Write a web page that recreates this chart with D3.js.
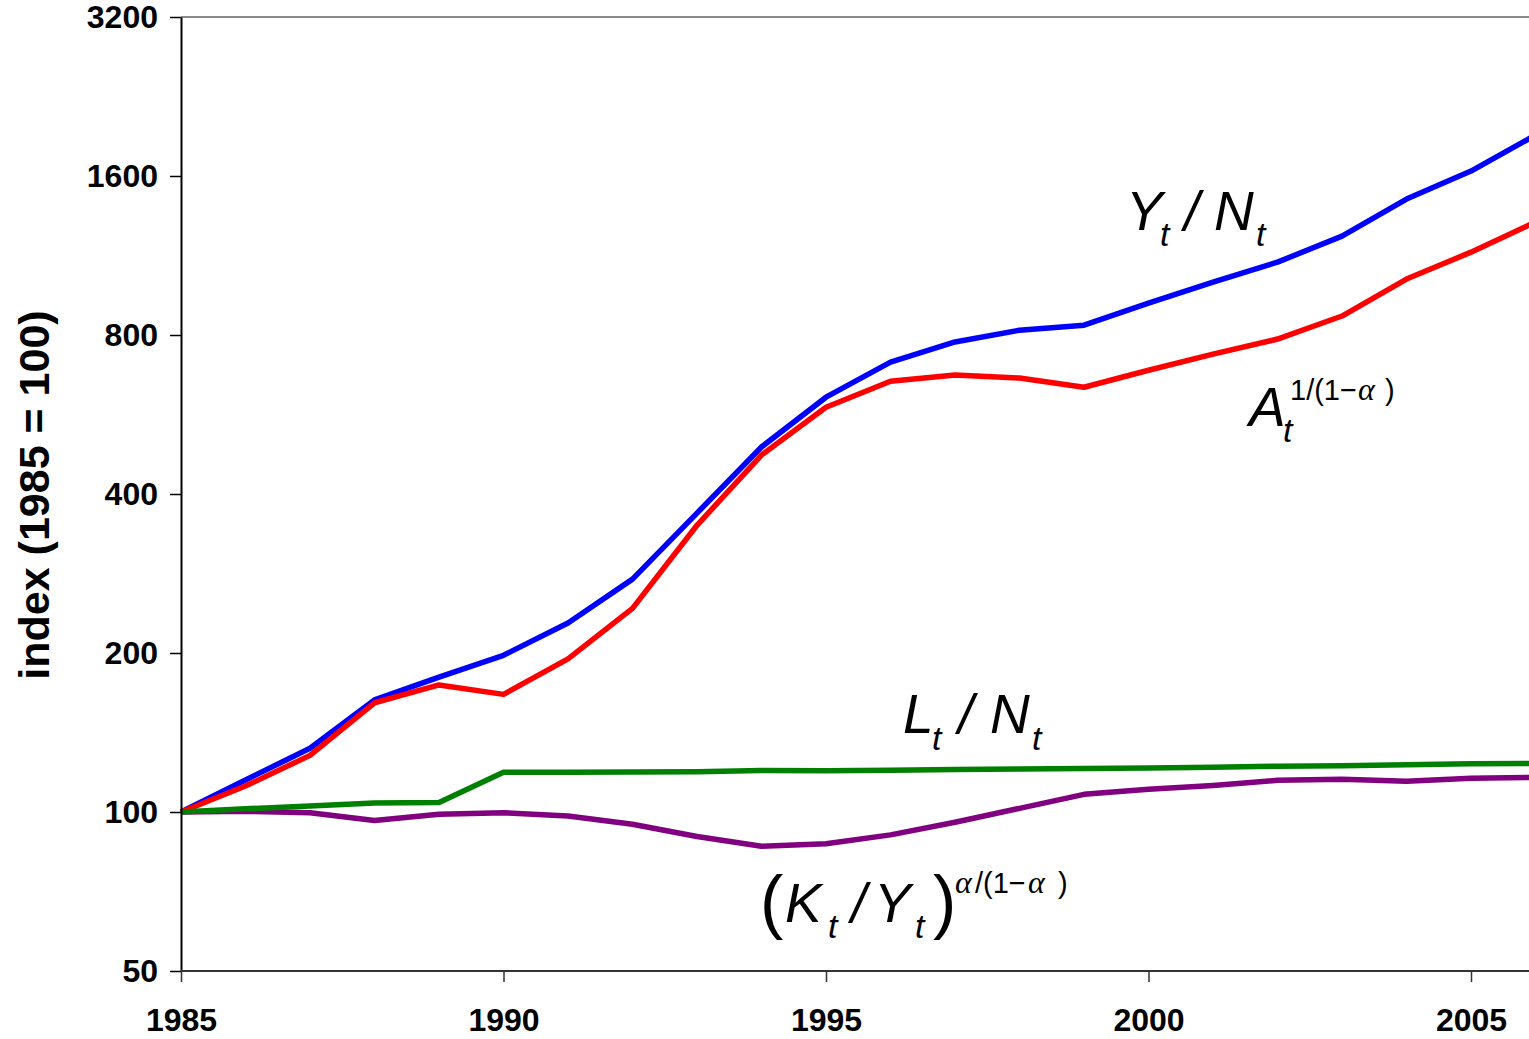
<!DOCTYPE html>
<html>
<head>
<meta charset="utf-8">
<script src="https://cdn.jsdelivr.net/npm/d3@7/dist/d3.min.js"></script>
<style>
  html, body { margin: 0; padding: 0; background: #fff; }
  svg { display: block; }
</style>
</head>
<body>
<svg id="chart" width="1529" height="1039"></svg>
<script>
// ---- data ----
const years = [1985,1986,1987,1988,1989,1990,1991,1992,1993,1994,1995,1996,1997,1998,1999,2000,2001,2002,2003,2004,2005,2006];
const outputPerCapita = [100,115,132,163,180,198,228,276,368,491,610,711,776,817,835,919,1007,1099,1231,1447,1635,1912];
const productivity    = [100,112,128,161,174,167,195,243,349,474,584,654,672,663,637,686,736,786,869,1021,1148,1309];
const laborShare      = [100,101.4,102.7,104.0,104.2,118.9,118.9,119.0,119.2,119.8,119.7,120.0,120.4,120.6,120.9,121.1,121.5,122.1,122.3,122.9,123.4,123.6];
const capitalOutput   = [100,100.3,99.7,96.4,99.0,99.7,98.3,94.8,89.9,86.1,87.1,90.5,95.6,101.6,108.0,110.4,112.3,114.8,115.3,114.3,115.8,116.3];
const yTicks = [50,100,200,400,800,1600,3200];
const xTicks = [1985,1990,1995,2000,2005];
const yTitle = "index (1985 = 100)";

const series = [
  { name: "capitalOutput", values: capitalOutput, color: "#800080" },
  { name: "outputPerCapita", values: outputPerCapita, color: "#0000FF" },
  { name: "productivity", values: productivity, color: "#FF0000" },
  { name: "laborShare", values: laborShare, color: "#008000" }
];

// ---- layout ----
const svg = d3.select("#chart");
const plotLeft = 181, plotTop = 17, plotBottom = 971, x2005 = 1471;

const x = d3.scaleLinear().domain([1985, 2005]).range([plotLeft, x2005]);
const y = d3.scaleLog().base(2).domain([50, 3200]).range([plotBottom, plotTop]);

// top border
svg.append("line")
  .attr("x1", plotLeft).attr("x2", 1529).attr("y1", plotTop).attr("y2", plotTop)
  .attr("stroke", "#8a8a8a").attr("stroke-width", 2);

// lines
const line = d3.line().x((d, i) => x(years[i])).y(d => y(d));
svg.append("g").selectAll("path").data(series).join("path")
  .attr("d", s => line(s.values))
  .attr("fill", "none")
  .attr("stroke", s => s.color)
  .attr("stroke-width", 5.5)
  .attr("stroke-linejoin", "round");

// y axis
const yAxis = d3.axisLeft(y).tickValues(yTicks).tickFormat(d3.format("d"))
  .tickSize(11).tickSizeOuter(0).tickPadding(12);
const gy = svg.append("g").attr("transform", `translate(${plotLeft},0)`).call(yAxis);
gy.select(".domain").attr("stroke", "#000").attr("stroke-width", 2);
gy.selectAll(".tick line").attr("stroke", "#000").attr("stroke-width", 1.5);
gy.selectAll("text").attr("font-family", "Liberation Sans, Arial, sans-serif")
  .attr("font-weight", "bold").attr("font-size", 32).attr("fill", "#000");

// x axis
const xAxis = d3.axisBottom(x).tickValues(xTicks).tickFormat(d3.format("d"))
  .tickSize(11).tickSizeOuter(0).tickPadding(26);
const gx = svg.append("g").attr("transform", `translate(0,${plotBottom})`).call(xAxis);
gx.select(".domain").remove();
gx.append("line").attr("x1", plotLeft).attr("x2", 1529).attr("y1", 0).attr("y2", 0)
  .attr("stroke", "#333").attr("stroke-width", 2);
gx.selectAll(".tick line").attr("stroke", "#333").attr("stroke-width", 1.5);
gx.selectAll("text").attr("font-family", "Liberation Sans, Arial, sans-serif")
  .attr("font-weight", "bold").attr("font-size", 32).attr("fill", "#000");

// y title
svg.append("text")
  .attr("transform", "translate(49,495) rotate(-90)")
  .attr("text-anchor", "middle")
  .attr("font-family", "Liberation Sans, Arial, sans-serif")
  .attr("font-weight", "bold").attr("font-size", 43)
  .text(yTitle);

// ---- math labels ----
const SANS = "Liberation Sans, Arial, sans-serif";
const SERIF = "Liberation Serif, Times New Roman, serif";
function label(parts) {
  const g = svg.append("g");
  parts.forEach(p => {
    g.append("text")
      .attr("x", p.x).attr("y", p.y)
      .attr("font-family", p.serif ? SERIF : SANS)
      .attr("font-style", p.italic ? "italic" : "normal")
      .attr("font-weight", p.weight || "normal")
      .attr("font-size", p.s)
      .attr("fill", "#000")
      .text(p.t);
  });
}
// Y_t / N_t
label([
  { t: "Y", x: 1126, y: 230, s: 55, italic: true },
  { t: "t", x: 1160, y: 246, s: 34, italic: true },
  { t: "/", x: 1184, y: 230, s: 55, italic: true },
  { t: "N", x: 1214, y: 230, s: 55, italic: true },
  { t: "t", x: 1256, y: 246, s: 34, italic: true }
]);
// A_t^{1/(1-alpha)}
label([
  { t: "A", x: 1249, y: 426, s: 55, italic: true },
  { t: "t", x: 1283, y: 442, s: 34, italic: true },
  { t: "1/(1\u2212", x: 1290, y: 400, s: 29 },
  { t: "\u03B1", x: 1358, y: 400, s: 32, italic: true, serif: true },
  { t: ")", x: 1385, y: 400, s: 29 }
]);
// L_t / N_t
label([
  { t: "L", x: 903, y: 733, s: 55, italic: true },
  { t: "t", x: 932, y: 750, s: 34, italic: true },
  { t: "/", x: 958, y: 733, s: 55, italic: true },
  { t: "N", x: 990, y: 733, s: 55, italic: true },
  { t: "t", x: 1032, y: 750, s: 34, italic: true }
]);
// (K_t / Y_t)^{alpha/(1-alpha)}
label([
  { t: "(", x: 760, y: 925, s: 70 },
  { t: "K", x: 785, y: 922, s: 55, italic: true },
  { t: "t", x: 828, y: 938, s: 34, italic: true },
  { t: "/", x: 851, y: 922, s: 55, italic: true },
  { t: "Y", x: 874, y: 922, s: 55, italic: true },
  { t: "t", x: 915, y: 938, s: 34, italic: true },
  { t: ")", x: 933, y: 925, s: 70 },
  { t: "\u03B1", x: 955, y: 893, s: 32, italic: true, serif: true },
  { t: "/(1\u2212", x: 975, y: 893, s: 29 },
  { t: "\u03B1", x: 1028, y: 893, s: 32, italic: true, serif: true },
  { t: ")", x: 1058, y: 893, s: 29 }
]);
</script>
</body>
</html>
